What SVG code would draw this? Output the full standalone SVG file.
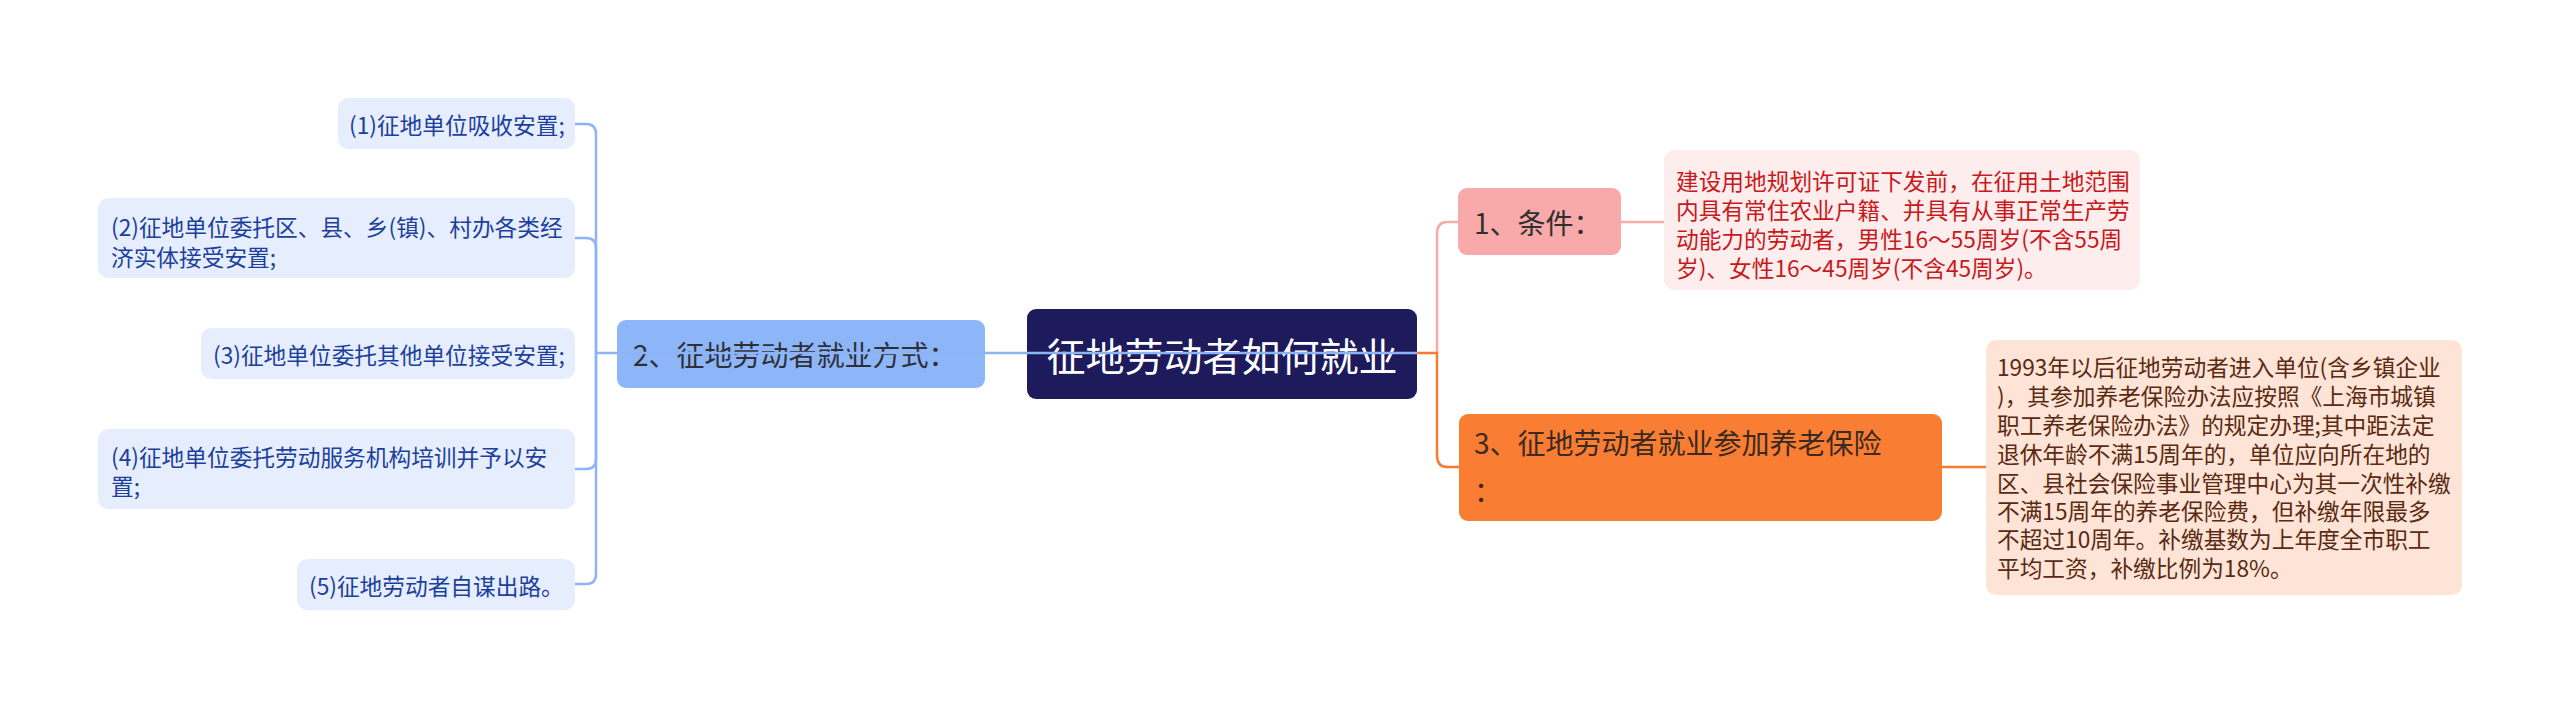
<svg xmlns="http://www.w3.org/2000/svg" width="2560" height="708" viewBox="0 0 2560 708">
<style>
text{font-family:"Noto Sans CJK SC","Noto Sans",sans-serif;dominant-baseline:central}
.leaf rect{fill:#e6eefd}
.leaf text{fill:#1c3f9e;font-size:22.7px}
.c{fill:none;stroke-width:2.5}
.blue{stroke:#8db4f5}
.pink{stroke:#f7aaa9}
.orange{stroke:#f77b32}
</style>
<rect width="2560" height="708" fill="#ffffff"/>
<g id="center"><rect x="1027" y="309" width="390" height="90" rx="9" fill="#1d1b5c"/><text x="1222" y="354" text-anchor="middle" font-size="39" fill="#ffffff">征地劳动者如何就业</text></g>
<g id="n2"><rect x="617" y="320" width="368" height="68" rx="9" fill="#8db6f9"/><text x="633" y="354" font-size="28" fill="#2f2f3a">2、征地劳动者就业方式：</text></g>
<g id="leaf1" class="leaf"><rect x="338" y="98" width="237" height="51" rx="10"/><text x="349" y="124">(1)征地单位吸收安置;</text></g>
<g id="leaf2" class="leaf"><rect x="98" y="198" width="477" height="80" rx="10"/><text x="111" y="226">(2)征地单位委托区、县、乡(镇)、村办各类经</text><text x="111" y="256">济实体接受安置;</text></g>
<g id="leaf3" class="leaf"><rect x="201" y="328" width="374" height="51" rx="10"/><text x="213" y="354">(3)征地单位委托其他单位接受安置;</text></g>
<g id="leaf4" class="leaf"><rect x="98" y="429" width="477" height="80" rx="10"/><text x="111" y="456">(4)征地单位委托劳动服务机构培训并予以安</text><text x="111" y="485">置;</text></g>
<g id="leaf5" class="leaf"><rect x="297" y="559" width="278" height="51" rx="10"/><text x="309" y="585">(5)征地劳动者自谋出路。</text></g>
<g id="n1"><rect x="1458" y="188" width="163" height="67" rx="9" fill="#f8a9a9"/><text x="1474" y="222" font-size="28" fill="#2f2f2f">1、条件：</text></g>
<g id="d1"><rect x="1664" y="150" width="476" height="140" rx="10" fill="#fdeded"/>
<text font-size="22.7" fill="#c8191c"><tspan x="1676" y="180">建设用地规划许可证下发前，在征用土地范围</tspan><tspan x="1676" y="209">内具有常住农业户籍、并具有从事正常生产劳</tspan><tspan x="1676" y="238">动能力的劳动者，男性16～55周岁(不含55周</tspan><tspan x="1676" y="267">岁)、女性16～45周岁(不含45周岁)。</tspan></text></g>
<g id="n3"><rect x="1459" y="414" width="483" height="107" rx="9" fill="#f97d33"/><text font-size="28" fill="#3a2a22"><tspan x="1474" y="442">3、征地劳动者就业参加养老保险</tspan><tspan x="1474" y="490">：</tspan></text></g>
<g id="d3"><rect x="1986" y="340" width="476" height="255" rx="10" fill="#fde4d6"/>
<text font-size="22.7" fill="#5b2a12"><tspan x="1997" y="366">1993年以后征地劳动者进入单位(含乡镇企业</tspan><tspan x="1997" y="395">)，其参加养老保险办法应按照《上海市城镇</tspan><tspan x="1997" y="424">职工养老保险办法》的规定办理;其中距法定</tspan><tspan x="1997" y="453">退休年龄不满15周年的，单位应向所在地的</tspan><tspan x="1997" y="482">区、县社会保险事业管理中心为其一次性补缴</tspan><tspan x="1997" y="510">不满15周年的养老保险费，但补缴年限最多</tspan><tspan x="1997" y="538">不超过10周年。补缴基数为上年度全市职工</tspan><tspan x="1997" y="567">平均工资，补缴比例为18%。</tspan></text></g>
<g id="connectors">
<path class="c blue" d="M1417 353H596"/>
<path class="c blue" d="M596 353V134Q596 124 586 124H575"/>
<path class="c blue" d="M596 353V248Q596 238 586 238H575"/>
<path class="c blue" d="M596 353V459Q596 469 586 469H575"/>
<path class="c blue" d="M596 353V574Q596 584 586 584H575"/>
<path class="c pink" d="M1437 353V234Q1437 222 1447 222H1458"/>
<path class="c pink" d="M1621 222H1664"/>
<path class="c orange" d="M1417 353H1437V455Q1437 467 1447 467H1459"/>
<path class="c orange" d="M1942 467H1986"/>
</g>
</svg>
